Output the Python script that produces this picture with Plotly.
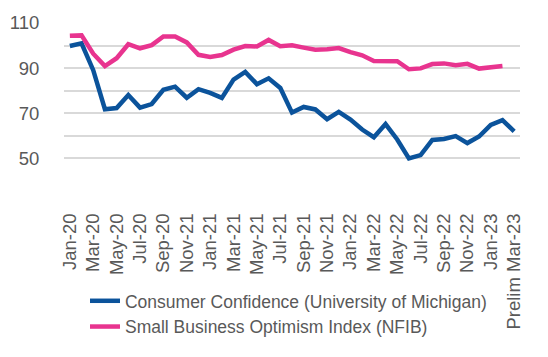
import plotly.graph_objects as go

months = ["Jan-20","Feb-20","Mar-20","Apr-20","May-20","Jun-20","Jul-20","Aug-20","Sep-20","Oct-20","Nov-20","Dec-20",
          "Jan-21","Feb-21","Mar-21","Apr-21","May-21","Jun-21","Jul-21","Aug-21","Sep-21","Oct-21","Nov-21","Dec-21",
          "Jan-22","Feb-22","Mar-22","Apr-22","May-22","Jun-22","Jul-22","Aug-22","Sep-22","Oct-22","Nov-22","Dec-22",
          "Jan-23","Feb-23","Mar-23"]

tick_labels = ["Jan-20","Mar-20","May-20","Jul-20","Sep-20","Nov-21","Jan-21","Mar-21","May-21","Jul-21",
               "Sep-21","Nov-21","Jan-22","Mar-22","May-22","Jul-22","Sep-22","Nov-22","Jan-23","Prelim Mar-23"]

consumer_confidence = [99.8,101.0,89.1,71.8,72.3,78.1,72.5,74.1,80.4,81.8,76.9,80.7,
                       79.0,76.8,84.9,88.3,82.9,85.5,81.2,70.3,72.8,71.7,67.4,70.6,
                       67.2,62.8,59.4,65.2,58.4,50.0,51.5,58.2,58.6,59.9,56.8,59.7,
                       64.9,67.0,62.0]

small_business = [104.3,104.5,96.4,90.9,94.4,100.6,98.8,100.2,104.0,104.0,101.4,95.9,
                  95.0,95.8,98.2,99.8,99.6,102.5,99.7,100.1,99.1,98.2,98.4,98.9,
                  97.1,95.7,93.2,93.2,93.1,89.5,89.9,91.8,92.1,91.3,91.9,89.8,
                  90.3,90.9,None]

y_grid = [40,50,60,70,80,90,100,110]
y_text = ["","50","","70","","90","","110"]

font_family = "Liberation Sans, Arial, sans-serif"
gray = "#595959"
grid_color = "#D9D9D9"

fig = go.Figure()
fig.add_trace(go.Scatter(x=months, y=consumer_confidence, mode="lines",
                         name="Consumer Confidence (University of Michigan)",
                         line=dict(color="#0B539B", width=4.5)))
fig.add_trace(go.Scatter(x=months, y=small_business, mode="lines",
                         name="Small Business Optimism Index (NFIB)",
                         line=dict(color="#E8348F", width=4.5)))

fig.update_layout(
    width=548, height=357,
    margin=dict(l=64, r=28, t=23, b=169),
    paper_bgcolor="white", plot_bgcolor="white",
    font=dict(family=font_family, size=18, color=gray),
    showlegend=True,
    legend=dict(x=0.046, y=-0.645, xanchor="left", yanchor="top",
                font=dict(size=17.5, color=gray), bgcolor="rgba(0,0,0,0)",
                tracegroupgap=0),
    xaxis=dict(type="category", categoryorder="array", categoryarray=months,
               range=[-0.5, 38.5], automargin=False,
               tickmode="array", tickvals=months[::2], ticktext=tick_labels,
               tickangle=-90, showgrid=False, showline=False, zeroline=False,
               ticks="outside", ticklen=24, tickcolor="rgba(255,255,255,0)",
               tickfont=dict(size=18.5, color=gray)),
    yaxis=dict(range=[40, 110], tickmode="array", tickvals=y_grid, ticktext=y_text,
               showgrid=True, gridcolor=grid_color, gridwidth=2, automargin=False,
               showline=False, zeroline=False,
               ticks="outside", ticklen=20, tickcolor="rgba(255,255,255,0)",
               tickfont=dict(size=18.5, color=gray)),
)

fig.write_html("out.html", config={"displayModeBar": False},
               post_script="document.body.style.margin='0';")
